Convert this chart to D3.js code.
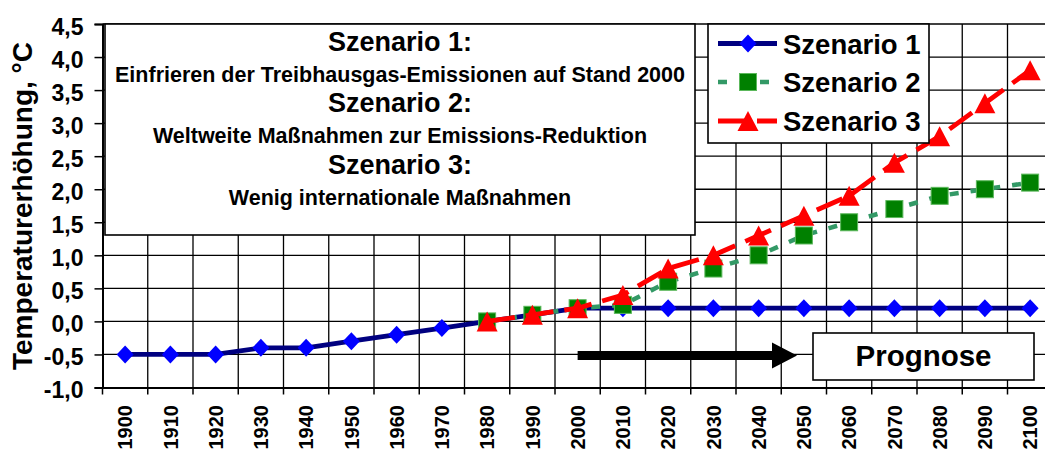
<!DOCTYPE html>
<html>
<head>
<meta charset="utf-8">
<script src="https://cdn.jsdelivr.net/npm/d3@7"></script>
<style>
  html, body { margin: 0; padding: 0; background: #fff; }
  svg { display: block; }
  text { font-family: "Liberation Sans", Arial, sans-serif; font-weight: bold; fill: #000; }
</style>
</head>
<body>
<svg id="chart" width="1045" height="451"></svg>
<script>
// ---- data ----
const years = ["1900","1910","1920","1930","1940","1950","1960","1970","1980","1990","2000",
               "2010","2020","2030","2040","2050","2060","2070","2080","2090","2100"];
const szenario1 = [-0.5,-0.5,-0.5,-0.4,-0.4,-0.3,-0.2,-0.1,0.0,0.1,0.2,
                   0.2,0.2,0.2,0.2,0.2,0.2,0.2,0.2,0.2,0.2];
const szenario2 = [null,null,null,null,null,null,null,null,0.0,0.1,0.2,
                   0.25,0.6,0.8,1.0,1.3,1.5,1.7,1.9,2.0,2.1];
const szenario3 = [null,null,null,null,null,null,null,null,0.0,0.1,0.2,
                   0.4,0.8,1.0,1.3,1.6,1.9,2.4,2.8,3.3,3.8];
const yTickValues = [-1.0,-0.5,0.0,0.5,1.0,1.5,2.0,2.5,3.0,3.5,4.0,4.5];
const seriesNames = ["Szenario 1","Szenario 2","Szenario 3"];
const yTitle = "Temperaturerhöhung, °C";
const boxLines = [
  {t:"Szenario 1:", big:true},
  {t:"Einfrieren der Treibhausgas-Emissionen auf Stand 2000", big:false},
  {t:"Szenario 2:", big:true},
  {t:"Weltweite Maßnahmen zur Emissions-Reduktion", big:false},
  {t:"Szenario 3:", big:true},
  {t:"Wenig internationale Maßnahmen", big:false}
];
const prognoseLabel = "Prognose";

// ---- layout ----
const svg = d3.select("#chart");
const left = 102.5, bandW = 45.25;
const x = d3.scaleBand().domain(years).range([left, left + years.length * bandW]).padding(0);
const y = d3.scaleLinear().domain([-1, 4.5]).range([387.5, 24]);
const cx = d => x(d) + x.bandwidth() / 2;
const x0 = x.range()[0], x1 = x.range()[1];
const yTop = y(4.5), yBot = y(-1);

// gridlines
const grid = svg.append("g");
grid.selectAll("line.h").data(yTickValues.filter(v => v > -1)).join("line")
  .attr("x1", x0).attr("x2", x1).attr("y1", d => y(d)).attr("y2", d => y(d))
  .attr("stroke", "#000").attr("stroke-width", 1.3);
grid.selectAll("line.v").data(years).join("line")
  .attr("x1", d => x(d) + bandW).attr("x2", d => x(d) + bandW)
  .attr("y1", yTop).attr("y2", yBot)
  .attr("stroke", "#000").attr("stroke-width", 1.3);

// y axis
const yAxis = d3.axisLeft(y).tickValues(yTickValues)
  .tickFormat(d => d3.format(".1f")(d).replace(".", ",").replace("−", "-"))
  .tickSize(8).tickPadding(11);
const gy = svg.append("g").attr("transform", `translate(${left},0)`).call(yAxis);
gy.select(".domain").attr("stroke", "#000").attr("stroke-width", 2);
gy.selectAll(".tick line").attr("stroke", "#000").attr("stroke-width", 1.5);
gy.selectAll(".tick text").attr("font-size", 23).attr("dy", "0.45em")
  .style("font-family", '"Liberation Sans", Arial, sans-serif').style("font-weight", "bold").attr("fill", "#000");

// x axis
const gx = svg.append("g").attr("transform", `translate(0,${yBot})`);
gx.append("line").attr("x1", x0).attr("x2", x1).attr("y1", 0.5).attr("y2", 0.5)
  .attr("stroke", "#000").attr("stroke-width", 2.2);
gx.selectAll("line.tk").data([years[0]].concat(years)).join("line")
  .attr("x1", (d, i) => i === 0 ? x0 : x(d) + bandW)
  .attr("x2", (d, i) => i === 0 ? x0 : x(d) + bandW)
  .attr("y1", 0).attr("y2", 7).attr("stroke", "#000").attr("stroke-width", 1.5);
gx.selectAll("text").data(years).join("text")
  .attr("transform", d => `translate(${cx(d)},17.5) rotate(-90)`)
  .attr("text-anchor", "end").attr("dy", "0.36em").attr("font-size", 20)
  .text(d => d);

// y title
svg.append("text").attr("transform", "translate(32,206) rotate(-90)")
  .attr("text-anchor", "middle").attr("font-size", 28).text(yTitle);

// info box
svg.append("rect").attr("x", 105).attr("y", yTop).attr("width", 590).attr("height", 211)
  .attr("fill", "#fff").attr("stroke", "#000").attr("stroke-width", 1.6);
const baselines = [50.7, 81.7, 111.7, 143.3, 174, 205];
svg.selectAll("text.box").data(boxLines).join("text").attr("class", "box")
  .attr("x", 400).attr("y", (d, i) => baselines[i]).attr("text-anchor", "middle")
  .attr("font-size", d => d.big ? 27 : 21.5).text(d => d.t);

// series
const diamond = "M0,-9L8.5,0L0,9L-8.5,0Z";
const triangle = "M0,-10L10.5,10L-10.5,10Z";
const styles = [
  {data: szenario1, line: "#000080", width: 4.8, dash: null},
  {data: szenario2, line: "#339966", width: 4.5, dash: "9,12"},
  {data: szenario3, line: "#FF0000", width: 4.8, dash: "28,11"}
];
function drawMarker(g, si) {
  if (si === 0) g.append("path").attr("d", diamond).attr("fill", "#0000FF");
  else if (si === 1) g.append("rect").attr("x", -8.5).attr("y", -8.5).attr("width", 17).attr("height", 17)
    .attr("fill", "#008000").attr("stroke", "#5cb85c").attr("stroke-width", 1);
  else g.append("path").attr("d", triangle).attr("fill", "#FF0000");
}
const lineGen = d3.line().defined(d => d.v !== null).x(d => cx(d.year)).y(d => y(d.v));
styles.forEach((s, si) => {
  const pts = years.map((yr, i) => ({year: yr, v: s.data[i]}));
  svg.append("path").datum(pts).attr("d", lineGen).attr("fill", "none")
    .attr("stroke", s.line).attr("stroke-width", s.width)
    .attr("stroke-dasharray", s.dash).attr("stroke-linejoin", "round");
  const mg = svg.append("g");
  pts.filter(p => p.v !== null).forEach(p => {
    const g = mg.append("g").attr("transform", `translate(${cx(p.year)},${y(p.v)})`);
    drawMarker(g, si);
  });
});

// legend
const lg = svg.append("g");
lg.append("rect").attr("x", 708).attr("y", yTop).attr("width", 221).attr("height", 119)
  .attr("fill", "#fff").attr("stroke", "#000").attr("stroke-width", 1.6);
const rowY = [43.5, 82, 121];
seriesNames.forEach((name, i) => {
  const s = styles[i];
  lg.append("line").attr("x1", 718).attr("x2", 777).attr("y1", rowY[i]).attr("y2", rowY[i])
    .attr("stroke", s.line).attr("stroke-width", s.width).attr("stroke-dasharray", s.dash);
  const g = lg.append("g").attr("transform", `translate(748,${rowY[i]})`);
  drawMarker(g, i);
  lg.append("text").attr("x", 783).attr("y", rowY[i] + 10).attr("font-size", 27.5).text(name);
});

// arrow
const ay = 355.5, ax0 = cx("2000"), aTip = 797, aHead = 772;
svg.append("path")
  .attr("d", `M${ax0},${ay - 4.5}L${aHead},${ay - 4.5}L${aHead},${ay - 13}L${aTip},${ay}L${aHead},${ay + 13}L${aHead},${ay + 4.5}L${ax0},${ay + 4.5}Z`)
  .attr("fill", "#000");

// Prognose box
svg.append("rect").attr("x", 813).attr("y", 333).attr("width", 221).attr("height", 47)
  .attr("fill", "#fff").attr("stroke", "#000").attr("stroke-width", 1.6);
svg.append("text").attr("x", 923.5).attr("y", 366).attr("text-anchor", "middle")
  .attr("font-size", 29.5).text(prognoseLabel);
</script>
</body>
</html>
